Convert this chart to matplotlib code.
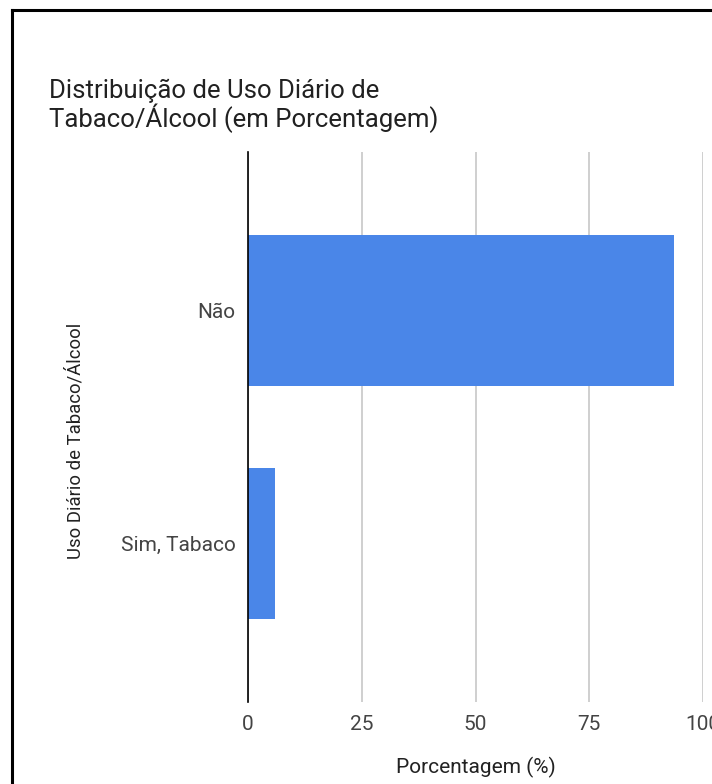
import matplotlib
matplotlib.use("Agg")
import matplotlib.pyplot as plt
from matplotlib.lines import Line2D
import numpy as np

# data
categorias = ["Não", "Sim, Tabaco"]
porcentagens = [93.7, 5.9]
x_ticks = [0, 25, 50, 75, 100]

titulo = "Distribuição de Uso Diário de\nTabaco/Álcool (em Porcentagem)"
rotulo_y = "Uso Diário de Tabaco/Álcool"
rotulo_x = "Porcentagem (%)"

W, H = 712, 784
plt.rcParams['font.family'] = ['Roboto', 'DejaVu Sans']

fig = plt.figure(figsize=(W / 100, H / 100), dpi=100)
fig.patch.set_facecolor('white')

# axes box in pixel terms: x 248..703, y 152..702
ax = fig.add_axes([248 / W, 1 - 702 / H, (703 - 248) / W, (702 - 152) / H])

pos = np.arange(len(categorias))
ax.barh(pos, porcentagens, height=0.65, color='#4a86e8', zorder=3)

ax.set_xlim(0, 100)
ax.set_ylim(1.68, -0.68)
ax.set_xticks(x_ticks)
ax.set_yticks(pos)
ax.set_yticklabels(categorias)
ax.tick_params(axis='both', length=0, labelsize=15, labelcolor='#444444')
ax.tick_params(axis='x', pad=9)
ax.tick_params(axis='y', pad=9)
ax.xaxis.grid(True, color='#cccccc', linewidth=1.3, zorder=0)
for s in ['top', 'right', 'bottom']:
    ax.spines[s].set_visible(False)
ax.spines['left'].set_color('#000000')
ax.spines['left'].set_linewidth(1.2)
ax.spines['left'].set_zorder(4)

fig.text(49 / W, 1 - 79 / H, titulo, fontsize=18.5, color='#212121',
         ha='left', va='top', linespacing=1.0)
fig.text(75 / W, 1 - 441 / H, rotulo_y, fontsize=13.3, color='#222222',
         rotation=90, ha='center', va='center')
fig.text(475.5 / W, 1 - 767 / H, rotulo_x, fontsize=15, color='#222222',
         ha='center', va='center')

# black frame, only left and top sides visible in the crop
fig.add_artist(Line2D([11.5 / W, 11.5 / W], [0, 1 - 9.5 / H],
                      color='black', linewidth=2.2, transform=fig.transFigure))
fig.add_artist(Line2D([11.5 / W, 1.0], [1 - 9.5 / H, 1 - 9.5 / H],
                      color='black', linewidth=2.2, transform=fig.transFigure))

fig.savefig("out.png", dpi=100)
